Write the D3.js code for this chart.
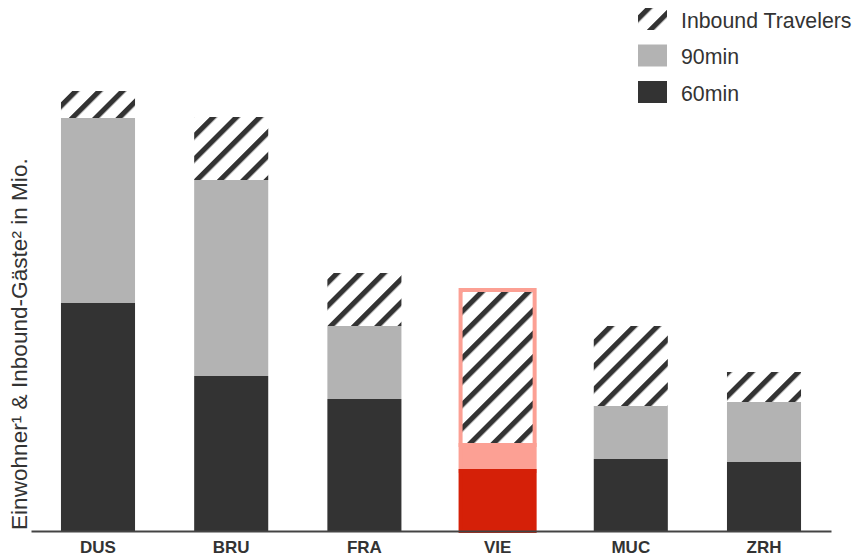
<!DOCTYPE html>
<html>
<head>
<meta charset="utf-8">
<script src="https://cdn.jsdelivr.net/npm/d3@7"></script>
<style>
  html, body { margin: 0; padding: 0; background: #fff; }
  svg { display: block; font-family: "Liberation Sans", Arial, Helvetica, sans-serif; }
</style>
</head>
<body>
<svg id="chart" width="856" height="560"></svg>
<script>
const categories = ["DUS", "BRU", "FRA", "VIE", "MUC", "ZRH"];
const min60 = [11.4, 7.75, 6.6, 3.0, 3.6, 3.45];
const min90 = [9.25, 9.8, 3.65, 1.3, 2.65, 3.0];
const inbound = [1.35, 3.15, 2.65, 7.75, 4.0, 1.5];
const highlight = "VIE";
const seriesNames = ["60min", "90min", "Inbound Travelers"];
const yTitle = "Einwohner\u00B9 & Inbound-G\u00E4ste\u00B2 in Mio.";

const svg = d3.select("#chart");
const x = d3.scaleBand().domain(categories).range([31, 831]).paddingInner(0.444).paddingOuter(0.225);
const y = d3.scaleLinear().domain([0, 22]).range([531, 91]);

const defs = svg.append("defs");
defs.append("pattern")
  .attr("id", "hatch").attr("patternUnits", "userSpaceOnUse")
  .attr("width", 16.5).attr("height", 16.5)
  .attr("patternTransform", "rotate(45)")
  .call(p => {
    p.append("rect").attr("width", 16.5).attr("height", 16.5).attr("fill", "#fff");
    p.append("rect").attr("x", 0).attr("width", 5.2).attr("height", 16.5).attr("fill", "#333");
  });

const normalFill = { "60min": "#333333", "90min": "#b3b3b3", "Inbound Travelers": "url(#hatch)" };
const hiFill = { "60min": "#d52008", "90min": "#fca094", "Inbound Travelers": "url(#hatch)" };
const hiStroke = { "60min": "#d52008", "90min": "#fca094", "Inbound Travelers": "#fca094" };

const rows = categories.map((c, i) => ({ cat: c, "60min": min60[i], "90min": min90[i], "Inbound Travelers": inbound[i] }));
const stacked = d3.stack().keys(seriesNames)(rows);

const order = [2, 1, 0];
const g = svg.append("g");
order.forEach(si => {
  const s = stacked[si];
  const key = s.key;
  g.selectAll(null).data(s).enter().append("rect")
    .attr("x", d => x(d.data.cat))
    .attr("width", x.bandwidth())
    .attr("y", d => y(d[1]))
    .attr("height", d => y(d[0]) - y(d[1]))
    .attr("fill", d => d.data.cat === highlight ? hiFill[key] : normalFill[key])
    .attr("stroke", d => d.data.cat === highlight ? hiStroke[key] : "none")
    .attr("stroke-width", d => d.data.cat === highlight ? 4 : 0);
});

const axis = d3.axisBottom(x).tickSize(0).tickPadding(10);
const ax = svg.append("g").attr("transform", `translate(0,${y(0)})`).call(axis);
ax.select(".domain").attr("stroke", "#444").attr("stroke-width", 2);
ax.selectAll("text")
  .attr("font-size", 17).attr("font-weight", "bold").attr("fill", "#333")
  .attr("font-family", "'Liberation Sans', Arial, sans-serif")
  .attr("dy", "0.71em");

svg.append("text")
  .attr("transform", "translate(27,530) rotate(-90)")
  .attr("text-anchor", "start")
  .attr("font-size", 22.6).attr("fill", "#333")
  .text(yTitle);

const legendItems = ["Inbound Travelers", "90min", "60min"];
const lg = svg.append("g");
legendItems.forEach((name, i) => {
  const yy = 8 + i * 36.5;
  lg.append("rect").attr("x", 638).attr("y", yy).attr("width", 29).attr("height", 22)
    .attr("fill", normalFill[name]);
  lg.append("text").attr("x", 681).attr("y", yy + 19.5)
    .attr("font-size", 21.3).attr("fill", "#333").text(name);
});
</script>
</body>
</html>
